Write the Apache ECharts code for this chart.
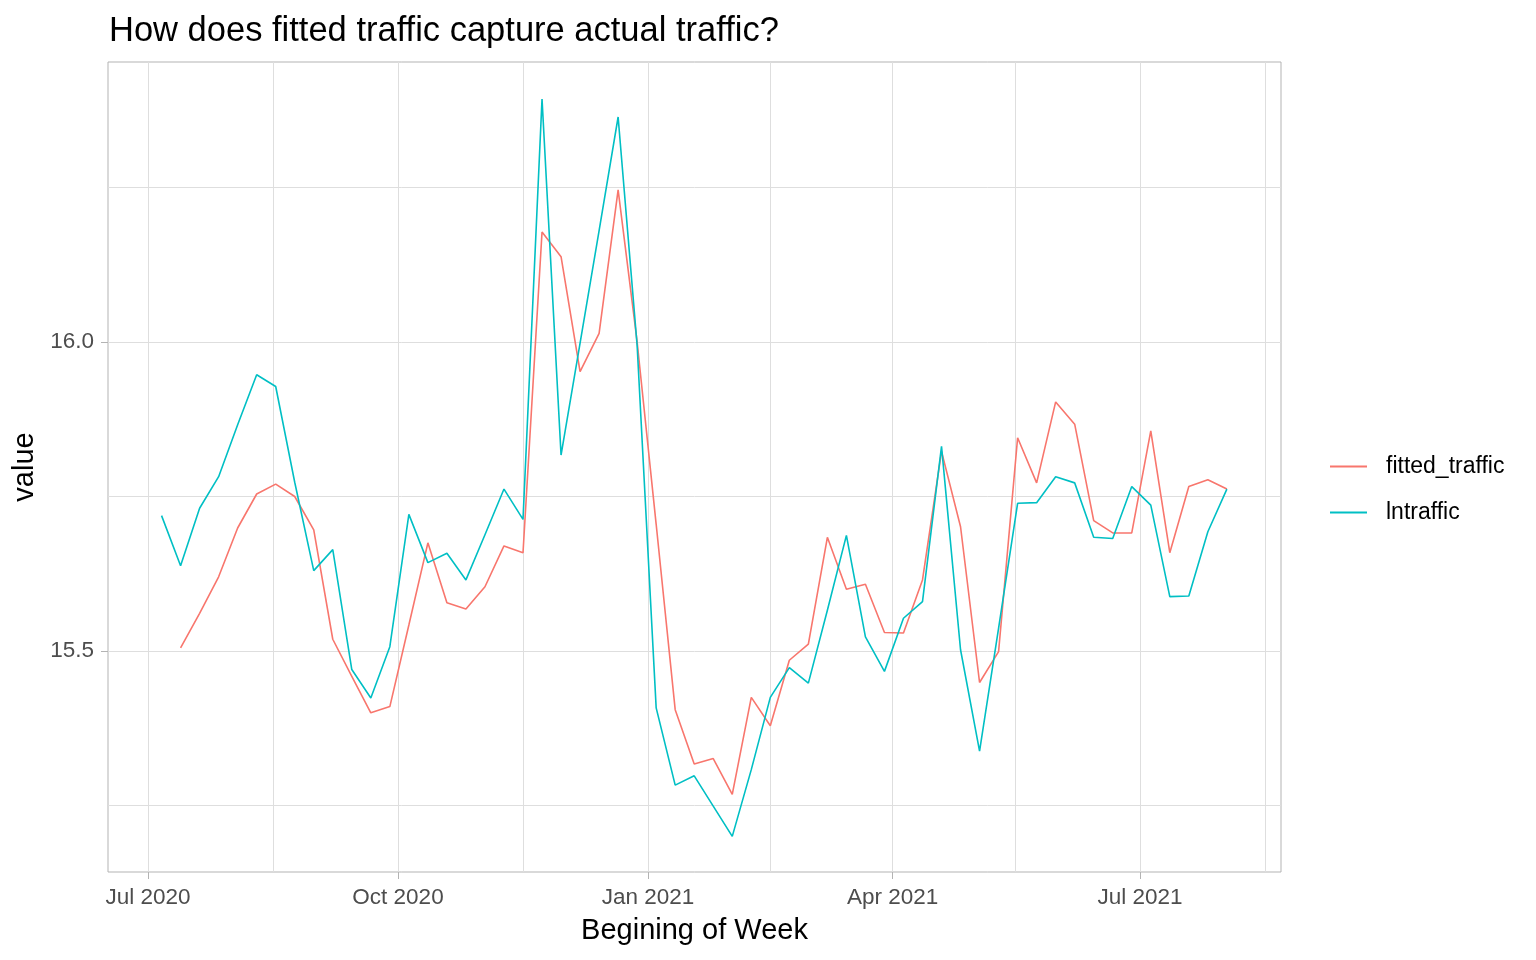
<!DOCTYPE html>
<html>
<head>
<meta charset="utf-8">
<script src="https://cdn.jsdelivr.net/npm/echarts@6/dist/echarts.min.js"></script>
<style>
  html, body { margin: 0; padding: 0; background: #fff; }
  #main { width: 1536px; height: 960px; }
</style>
</head>
<body>
<div id="main"></div>
<script>
// weekly dates (start of week)
const weeks = [
  '2020-07-06', '2020-07-13', '2020-07-20', '2020-07-27', '2020-08-03', '2020-08-10',
  '2020-08-17', '2020-08-24', '2020-08-31', '2020-09-07', '2020-09-14', '2020-09-21',
  '2020-09-28', '2020-10-05', '2020-10-12', '2020-10-19', '2020-10-26', '2020-11-02',
  '2020-11-09', '2020-11-16', '2020-11-23', '2020-11-30', '2020-12-07', '2020-12-14',
  '2020-12-21', '2020-12-28', '2021-01-04', '2021-01-11', '2021-01-18', '2021-01-25',
  '2021-02-01', '2021-02-08', '2021-02-15', '2021-02-22', '2021-03-01', '2021-03-08',
  '2021-03-15', '2021-03-22', '2021-03-29', '2021-04-05', '2021-04-12', '2021-04-19',
  '2021-04-26', '2021-05-03', '2021-05-10', '2021-05-17', '2021-05-24', '2021-05-31',
  '2021-06-07', '2021-06-14', '2021-06-21', '2021-06-28', '2021-07-05', '2021-07-12',
  '2021-07-19', '2021-07-26', '2021-08-02'
];

const fittedTraffic = [
  null, 15.505, 15.561, 15.620, 15.699, 15.754, 15.770, 15.750, 15.696, 15.519,
  15.459, 15.400, 15.410, 15.542, 15.675, 15.578, 15.568, 15.604, 15.670, 15.659,
  16.178, 16.138, 15.952, 16.014, 16.246, 16.000, 15.705, 15.405, 15.317, 15.326,
  15.268, 15.425, 15.379, 15.485, 15.511, 15.684, 15.600, 15.608, 15.530, 15.529,
  15.615, 15.823, 15.701, 15.449, 15.499, 15.845, 15.772, 15.903, 15.867, 15.711,
  15.691, 15.691, 15.856, 15.659, 15.766, 15.777, 15.762
];

const lnTraffic = [
  15.719, 15.638, 15.731, 15.782, 15.866, 15.947, 15.928, 15.773, 15.630, 15.664,
  15.470, 15.424, 15.507, 15.721, 15.643, 15.658, 15.615, 15.688, 15.762, 15.713,
  16.393, 15.817, 15.998, 16.180, 16.364, 15.994, 15.408, 15.283, 15.298, 15.249,
  15.200, 15.308, 15.425, 15.473, 15.448, 15.566, 15.687, 15.523, 15.467, 15.553,
  15.580, 15.831, 15.502, 15.338, 15.537, 15.739, 15.740, 15.782, 15.772, 15.684,
  15.682, 15.766, 15.736, 15.588, 15.589, 15.693, 15.762
];

// axis breaks
const majorDates = ['2020-07-01', '2020-10-01', '2021-01-01', '2021-04-01', '2021-07-01'];
const minorDates = ['2020-08-16', '2020-11-16', '2021-02-15', '2021-05-16', '2021-08-16'];
const majorY = [15.5, 16.0];
const minorY = [15.25, 15.75, 16.25];
const monthNames = ['Jan', 'Feb', 'Mar', 'Apr', 'May', 'Jun', 'Jul', 'Aug', 'Sep', 'Oct', 'Nov', 'Dec'];

function ts(s) {
  const p = s.split('-');
  return Date.UTC(+p[0], +p[1] - 1, +p[2]);
}

const xMin = Date.UTC(2020, 5, 16, 7);
const xMax = Date.UTC(2021, 7, 21, 22);
const yMin = 15.1424;
const yMax = 16.453;

const FONT = '"Liberation Sans", Arial, sans-serif';
const GRID_COLOR = '#dedede';

const chart = echarts.init(document.getElementById('main'));

const option = {
  animation: false,
  backgroundColor: '#fff',
  textStyle: { fontFamily: FONT },
  title: {
    text: 'How does fitted traffic capture actual traffic?',
    left: 104,
    top: 9,
    textStyle: { fontFamily: FONT, fontSize: 34.5, fontWeight: 'normal', color: '#000' }
  },
  legend: {
    orient: 'vertical',
    left: 1330,
    top: 455,
    padding: 0,
    icon: 'rect',
    itemWidth: 37,
    itemHeight: 2,
    itemGap: 23,
    textStyle: { fontFamily: FONT, fontSize: 23, color: '#000', padding: [0, 0, 0, 14] },
    data: ['fitted_traffic', 'lntraffic']
  },
  grid: {
    left: 108,
    top: 62,
    right: 255,
    bottom: 88,
    show: true,
    borderColor: '#b3b3b3',
    borderWidth: 1,
    outerBoundsMode: 'none'
  },
  xAxis: [
    {
      type: 'value',
      min: xMin,
      max: xMax,
      name: 'Begining of Week',
      nameLocation: 'middle',
      nameGap: 44,
      nameTextStyle: { fontFamily: FONT, fontSize: 29, color: '#000' },
      axisLine: { show: false },
      axisTick: { show: true, length: 7, customValues: majorDates.map(ts), lineStyle: { color: '#b3b3b3' } },
      axisLabel: {
        customValues: majorDates.map(ts),
        margin: 14,
        fontFamily: FONT,
        fontSize: 22.5,
        color: '#4d4d4d',
        formatter: function (v) {
          const d = new Date(v);
          return monthNames[d.getUTCMonth()] + ' ' + d.getUTCFullYear();
        }
      },
      splitLine: { show: true, lineStyle: { color: GRID_COLOR, width: 1 } }
    },
    {
      type: 'value',
      min: xMin,
      max: xMax,
      axisLine: { show: false },
      axisTick: { show: false, customValues: minorDates.map(ts) },
      axisLabel: { show: false },
      splitLine: { show: true, lineStyle: { color: GRID_COLOR, width: 1 } }
    }
  ],
  yAxis: [
    {
      type: 'value',
      min: yMin,
      max: yMax,
      name: 'value',
      nameLocation: 'middle',
      nameGap: 60,
      nameTextStyle: { fontFamily: FONT, fontSize: 29, color: '#000' },
      axisLine: { show: false },
      axisTick: { show: true, length: 7, customValues: majorY, lineStyle: { color: '#b3b3b3' } },
      axisLabel: {
        customValues: majorY,
        margin: 14,
        padding: [4, 0, 0, 0],
        fontFamily: FONT,
        fontSize: 22.5,
        color: '#4d4d4d',
        formatter: function (v) { return v.toFixed(1); }
      },
      splitLine: { show: true, lineStyle: { color: GRID_COLOR, width: 1 } }
    },
    {
      type: 'value',
      min: yMin,
      max: yMax,
      position: 'left',
      axisLine: { show: false },
      axisTick: { show: false, customValues: minorY },
      axisLabel: { show: false },
      splitLine: { show: true, lineStyle: { color: GRID_COLOR, width: 1 } }
    }
  ],
  series: [
    {
      name: 'fitted_traffic',
      type: 'line',
      xAxisIndex: 0,
      yAxisIndex: 0,
      showSymbol: false,
      symbol: 'none',
      connectNulls: false,
      lineStyle: { color: '#F8766D', width: 1.6 },
      itemStyle: { color: '#F8766D' },
      data: weeks.map((w, i) => [ts(w), fittedTraffic[i]])
    },
    {
      name: 'lntraffic',
      type: 'line',
      xAxisIndex: 0,
      yAxisIndex: 0,
      showSymbol: false,
      symbol: 'none',
      lineStyle: { color: '#00BFC4', width: 1.6 },
      itemStyle: { color: '#00BFC4' },
      data: weeks.map((w, i) => [ts(w), lnTraffic[i]])
    }
  ]
};

option && chart.setOption(option);
</script>
</body>
</html>
